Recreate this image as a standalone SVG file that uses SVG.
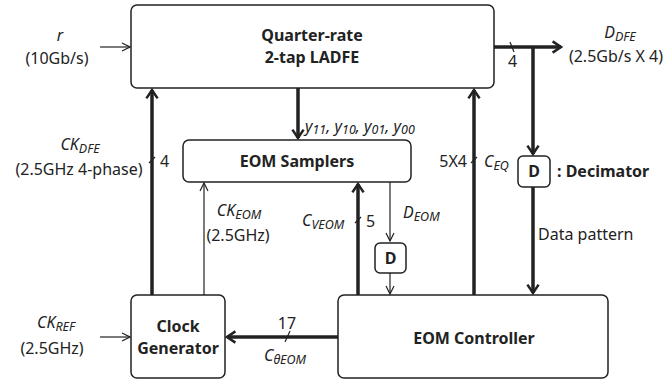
<svg xmlns="http://www.w3.org/2000/svg" width="670" height="381" viewBox="0 0 670 381">
<defs>
<style>
text{font-family:"Noto Sans","Open Sans","DejaVu Sans",sans-serif;fill:#222;font-size:16px}
.b{font-weight:bold;font-size:16px}
.i{font-style:italic}
.s{font-size:12.5px}
.m{text-anchor:middle}
.box{fill:#fff;stroke:#222;stroke-width:1.5}
.thick{stroke:#222;stroke-width:3.5;fill:none}
.thin{stroke:#222;stroke-width:1.2;fill:none}
</style>
<marker id="ah" viewBox="0 0 10 10" refX="9" refY="5" markerWidth="10" markerHeight="10" markerUnits="userSpaceOnUse" orient="auto">
<path d="M1,1 L9,5 L1,9" fill="none" stroke="#222" stroke-width="1.2"/>
</marker>
<marker id="ahT" viewBox="0 0 10 10" refX="8" refY="5" markerWidth="4" markerHeight="4" orient="auto">
<path d="M2,1 L8,5 L2,9" fill="none" stroke="#222" stroke-width="1.8"/>
</marker>
</defs>

<g id="connectors">
<line class="thin" x1="100" y1="47" x2="130" y2="47" marker-end="url(#ah)"/>
<line class="thick" x1="494" y1="47" x2="561" y2="47" marker-end="url(#ahT)"/>
<line class="thin" x1="510" y1="42" x2="514" y2="52"/>
<line class="thick" x1="533" y1="47" x2="533" y2="154" marker-end="url(#ahT)"/>
<line class="thick" x1="152" y1="295" x2="152" y2="90" marker-end="url(#ahT)"/>
<line class="thin" x1="149" y1="163" x2="155" y2="157"/>
<line class="thick" x1="474" y1="295" x2="474" y2="90" marker-end="url(#ahT)"/>
<line class="thin" x1="471" y1="163" x2="477" y2="157"/>
<line class="thick" x1="298" y1="88" x2="298" y2="138" marker-end="url(#ahT)"/>
<line class="thin" x1="204" y1="295" x2="204" y2="183" marker-end="url(#ah)"/>
<line class="thick" x1="358" y1="295" x2="358" y2="184" marker-end="url(#ahT)"/>
<line class="thin" x1="355" y1="223" x2="361" y2="217"/>
<line class="thin" x1="390" y1="182" x2="390" y2="241" marker-end="url(#ah)"/>
<line class="thin" x1="390" y1="273" x2="390" y2="294" marker-end="url(#ah)"/>
<line class="thick" x1="533" y1="187" x2="533" y2="293" marker-end="url(#ahT)"/>
<line class="thin" x1="100" y1="337" x2="130" y2="337" marker-end="url(#ah)"/>
<line class="thick" x1="338" y1="337" x2="227" y2="337" marker-end="url(#ahT)"/>
<line class="thin" x1="285" y1="342" x2="290" y2="331"/>
</g>

<g id="ladfe">
<rect class="box" x="131" y="5" width="363" height="83" rx="6"/>
<text class="b m" x="312" y="41">Quarter-rate</text>
<text class="b m" x="312" y="63">2-tap LADFE</text>
</g>
<g id="samplers">
<rect class="box" x="183" y="140" width="228" height="42" rx="6"/>
<text class="b m" x="297" y="167">EOM Samplers</text>
</g>
<g id="clockgen">
<rect class="box" x="131" y="295" width="94" height="83" rx="6"/>
<text class="b m" x="178" y="332">Clock</text>
<text class="b m" x="178" y="354">Generator</text>
</g>
<g id="controller">
<rect class="box" x="338" y="295" width="270" height="83" rx="6"/>
<text class="b m" x="474" y="344">EOM Controller</text>
</g>
<g id="dec1">
<rect class="box" x="518" y="156" width="32" height="31" rx="5"/>
<text class="b m" x="534" y="177">D</text>
<text class="b" x="557" y="177">: Decimator</text>
</g>
<g id="dec2">
<rect class="box" x="375" y="243" width="31" height="30" rx="5"/>
<text class="b m" x="390.5" y="264">D</text>
</g>

<g id="labels">
<text class="i m" x="60" y="41">r</text>
<text class="m" x="57" y="64">(10Gb/s)</text>
<text class="i m" x="620" y="38">D<tspan class="s" dy="3">DFE</tspan></text>
<text class="m" x="616" y="62">(2.5Gb/s X 4)</text>
<text x="508" y="67">4</text>
<text class="i" x="305" y="132">y<tspan class="s" dy="2">11</tspan><tspan dy="-2">, y</tspan><tspan class="s" dy="2">10</tspan><tspan dy="-2">, y</tspan><tspan class="s" dy="2">01</tspan><tspan dy="-2">, y</tspan><tspan class="s" dy="2">00</tspan></text>
<text class="i m" x="80" y="150">CK<tspan class="s" dy="3">DFE</tspan></text>
<text class="m" x="79" y="175">(2.5GHz 4-phase)</text>
<text x="160" y="167">4</text>
<text class="i m" x="239" y="216">CK<tspan class="s" dy="3">EOM</tspan></text>
<text class="m" x="238" y="241">(2.5GHz)</text>
<text class="i" x="302" y="226">C<tspan class="s" dy="3">VEOM</tspan></text>
<text x="366" y="227">5</text>
<text class="i" x="403" y="218">D<tspan class="s" dy="3">EOM</tspan></text>
<text x="467" y="167" text-anchor="end">5X4</text>
<text class="i" x="484" y="167">C<tspan class="s" dy="3">EQ</tspan></text>
<text x="538" y="240">Data pattern</text>
<text class="i m" x="56" y="328">CK<tspan class="s" dy="3">REF</tspan></text>
<text class="m" x="52" y="354">(2.5GHz)</text>
<text class="m" x="287" y="329">17</text>
<text class="i m" x="285" y="361">C<tspan class="s" dy="3">θEOM</tspan></text>
</g>
</svg>
